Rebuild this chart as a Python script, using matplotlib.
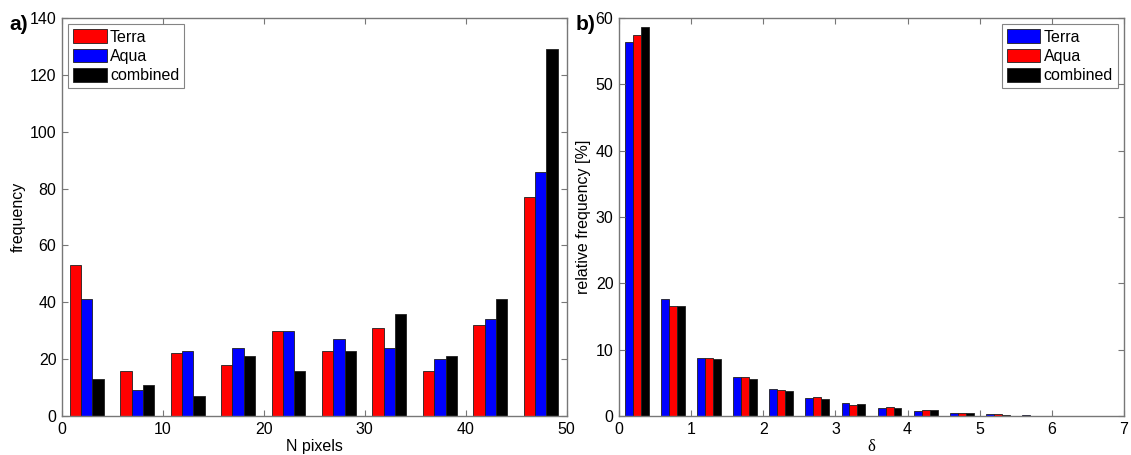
import numpy as np
import matplotlib
matplotlib.use("Agg")
import matplotlib.pyplot as plt

plt.rcParams["font.family"] = ["Liberation Sans", "DejaVu Sans"]
plt.rcParams["font.size"] = 11

# panel a: histogram of number of pixels
npix_centers = [2.45, 7.45, 12.45, 17.45, 22.45, 27.45, 32.45, 37.45, 42.45, 47.45]
npix_terra = [53, 16, 22, 18, 30, 23, 31, 16, 32, 77]
npix_aqua = [41, 9, 23, 24, 30, 27, 24, 20, 34, 86]
npix_combined = [13, 11, 7, 21, 16, 23, 36, 21, 41, 129]

# panel b: relative frequency of delta
delta_centers = [0.25, 0.75, 1.25, 1.75, 2.25, 2.75, 3.25, 3.75, 4.25, 4.75, 5.25, 5.75]
delta_terra = [56.4, 17.7, 8.7, 5.95, 4.0, 2.75, 1.95, 1.25, 0.8, 0.45, 0.3, 0.1]
delta_aqua = [57.4, 16.6, 8.8, 5.9, 3.85, 2.85, 1.7, 1.35, 0.9, 0.45, 0.3, 0.07]
delta_combined = [58.6, 16.6, 8.6, 5.55, 3.75, 2.6, 1.8, 1.15, 0.85, 0.45, 0.2, 0.05]

series_labels = ["Terra", "Aqua", "combined"]


def grouped_bars(ax, centers, series, colors, width):
    centers = np.asarray(centers)
    offsets = [-width, 0.0, width]
    for vals, off, col, lab in zip(series, offsets, colors, series_labels):
        ax.bar(centers + off, vals, width=width, color=col, edgecolor="#202020",
               linewidth=0.6, label=lab)


def style_axes(ax):
    for sp in ax.spines.values():
        sp.set_color("#777777")
        sp.set_linewidth(1.0)
    ax.tick_params(direction="in", top=True, right=True, length=4,
                   color="#777777", labelsize=11.5, pad=4)


def add_legend(ax, loc):
    leg = ax.legend(loc=loc, handlelength=2.1, handleheight=0.95,
                    handletextpad=0.2, borderpad=0.3, labelspacing=0.25,
                    fancybox=False, borderaxespad=0.4, fontsize=11.5)
    leg.get_frame().set_edgecolor("#666666")
    leg.get_frame().set_linewidth(0.8)
    return leg


fig = plt.figure(figsize=(11.31, 4.55), dpi=100)
ax1 = fig.add_axes([62 / 1131, 39 / 455, 504.5 / 1131, 398 / 455])
ax2 = fig.add_axes([619 / 1131, 39 / 455, 505 / 1131, 398 / 455])

grouped_bars(ax1, npix_centers, [npix_terra, npix_aqua, npix_combined],
             ["#ff0000", "#0000ff", "#000000"], 1.12)
ax1.set_xlim(0, 50)
ax1.set_ylim(0, 140)
ax1.set_xticks(range(0, 51, 10))
ax1.set_yticks(range(0, 141, 20))
ax1.set_xlabel("N pixels", labelpad=2, fontsize=11.5)
ax1.set_ylabel("frequency", labelpad=3, fontsize=11.5)
style_axes(ax1)
add_legend(ax1, "upper left")

grouped_bars(ax2, delta_centers, [delta_terra, delta_aqua, delta_combined],
             ["#0000ff", "#ff0000", "#000000"], 0.11)
ax2.set_xlim(0, 7)
ax2.set_ylim(0, 60)
ax2.set_xticks(range(0, 8))
ax2.set_yticks(range(0, 61, 10))
ax2.set_xlabel("δ", labelpad=2, fontsize=12, family=["Liberation Serif", "DejaVu Serif"])
ax2.set_ylabel("relative frequency [%]", labelpad=3, fontsize=11.5)
style_axes(ax2)
add_legend(ax2, "upper right")

fig.text(9 / 1131, 1 - 30 / 455, "a)", fontsize=15, fontweight="bold")
fig.text(576 / 1131, 1 - 30 / 455, "b)", fontsize=15, fontweight="bold")

fig.savefig("out.png", dpi=100)
